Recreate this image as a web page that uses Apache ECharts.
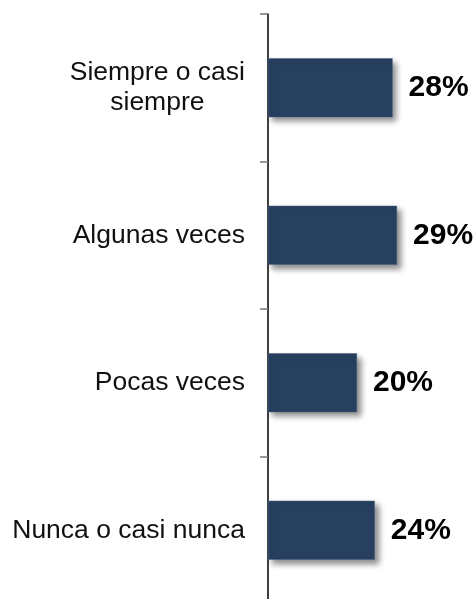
<!DOCTYPE html>
<html>
<head>
<meta charset="utf-8">
<script src="https://cdn.jsdelivr.net/npm/echarts@6/dist/echarts.min.js"></script>
<style>
  html, body { margin: 0; padding: 0; background: #fff; }
  #chart { width: 476px; height: 599px; }
</style>
</head>
<body>
<div id="chart"></div>
<script>
// categorías (de arriba hacia abajo)
const categories = ['Siempre o casi\nsiempre', 'Algunas veces', 'Pocas veces', 'Nunca o casi nunca'];
// porcentajes
const values = [28, 29, 20, 24];

const barColor = '#274060';
const fontFamily = '"Liberation Sans", Arial, sans-serif';

const chart = echarts.init(document.getElementById('chart'));

chart.setOption({
  animation: false,
  grid: {
    left: 268,
    right: 30,
    top: 14,
    height: 590,
    outerBoundsMode: 'none'
  },
  xAxis: {
    type: 'value',
    min: 0,
    max: 40,
    show: false
  },
  yAxis: {
    type: 'category',
    inverse: true,
    data: categories,
    axisLine: {
      show: true,
      lineStyle: { color: '#000', width: 1.5 }
    },
    axisTick: {
      show: true,
      length: 8,
      lineStyle: { color: '#777', width: 1.5 }
    },
    axisLabel: {
      margin: 23,
      color: '#111',
      fontSize: 26.5,
      fontFamily: fontFamily,
      lineHeight: 30,
      // líneas centradas entre sí
      formatter: (v) => v.split('\n').map((s) => '{c|' + s + '}').join('\n'),
      rich: {
        c: {
          align: 'center',
          fontSize: 26.5,
          fontFamily: fontFamily,
          lineHeight: 30,
          color: '#111'
        }
      }
    },
    splitLine: { show: false }
  },
  series: [
    {
      type: 'bar',
      data: values,
      barWidth: 59,
      itemStyle: {
        color: barColor,
        borderColor: '#4a6382',
        borderWidth: 0.5,
        shadowColor: 'rgba(0, 0, 0, 0.45)',
        shadowBlur: 6,
        shadowOffsetX: 4,
        shadowOffsetY: 4
      },
      label: {
        show: true,
        position: 'right',
        distance: 16,
        formatter: '{c}%',
        color: '#000',
        fontSize: 30,
        fontWeight: 'bold',
        fontFamily: fontFamily
      }
    }
  ]
});
</script>
</body>
</html>
